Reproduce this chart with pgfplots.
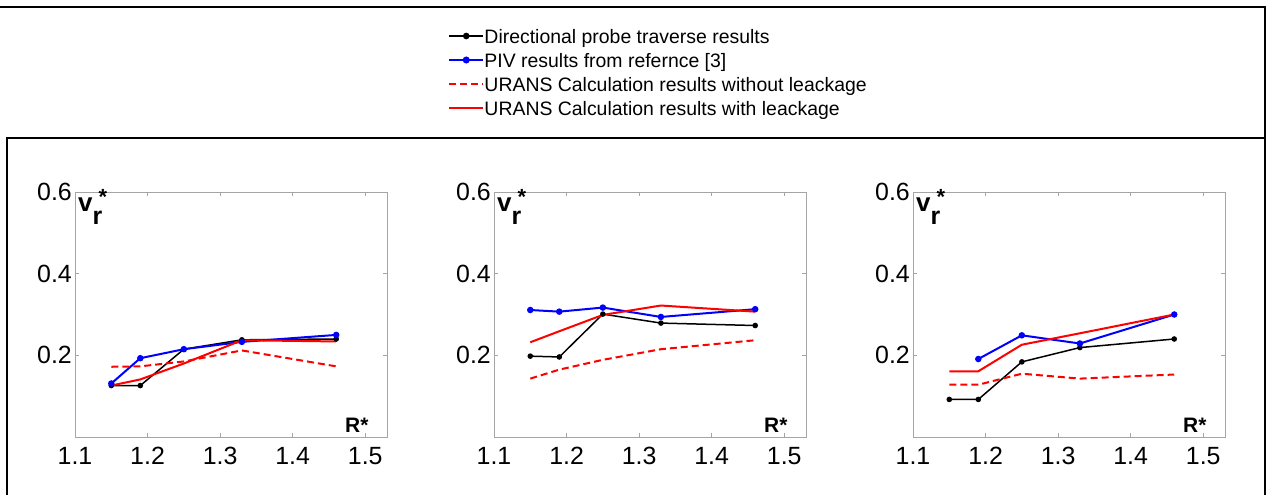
\documentclass[border=0pt]{standalone}
\usepackage{pgfplots}
\pgfplotsset{compat=1.18}
\usepackage{fontspec}
\setmainfont{Liberation Sans}
\definecolor{axgray}{RGB}{165,165,165}
\definecolor{myred}{RGB}{255,0,0}
\definecolor{myblue}{RGB}{0,0,255}
\pgfplotsset{
  panel/.style={
    scale only axis, width=312bp, height=245bp, anchor=south west,
    xmin=1.1, xmax=1.53, ymin=0, ymax=0.6,
    xtick={1.1,1.2,1.3,1.4,1.5}, xticklabels={1.1,1.2,1.3,1.4,1.5},
    ytick={0.2,0.4,0.6}, yticklabels={0.2,0.4,0.6},
    tick align=inside, major tick length=4bp,
    axis line style={axgray, line width=1bp},
    tick style={axgray, line width=0.8bp},
    tick label style={font=\fontsize{25}{25}\selectfont, text=black, inner sep=0pt},
    xticklabel style={yshift=-10bp},
    yticklabel style={xshift=-3bp},
  },
  blk/.style={black, line width=1.5bp, mark=*, mark size=2bp, mark options={solid}},
  blu/.style={myblue, line width=2bp, mark=*, mark size=2.2bp, mark options={solid}},
  rdd/.style={myred, line width=2bp, dash pattern=on 7bp off 4bp},
  rds/.style={myred, line width=2bp},
}
\begin{document}
\begin{tikzpicture}
\path[use as bounding box] (0,0) rectangle (1272bp,495bp);
% frames
\draw[line width=2.5bp] (0,488bp) -- (1265bp,488bp) -- (1265bp,0);
\draw[line width=2.5bp] (7bp,0) -- (7bp,357bp) -- (1265bp,357bp);

% panel 1
\begin{axis}[panel, at={(75bp,58bp)},
  legend style={at={(axis description cs:1.1955,1.6694)}, anchor=north west,
    draw=none, fill=none, inner sep=0pt, outer sep=0pt,
    font=\fontsize{19.5}{19.5}\selectfont,
    nodes={inner sep=0pt, text height=15bp, text depth=5bp},
    row sep=4bp},
  legend cell align=left,
  legend image code/.code={
    \path[draw=none] (0bp,2bp) -- (35bp,2bp);
    \draw[mark repeat=2, mark phase=2, #1, line width=2.5bp] plot coordinates {(0bp,2bp) (17bp,2bp) (34bp,2bp)};
  },
]
\addplot[blk] coordinates {(1.15,0.126) (1.19,0.126) (1.25,0.215) (1.33,0.238) (1.46,0.240)};
\addlegendentry{Directional probe traverse results}
\addplot[blu] coordinates {(1.15,0.131) (1.19,0.193) (1.25,0.215) (1.33,0.233) (1.46,0.250)};
\addlegendentry{PIV results from refernce [3]}
\addplot[rdd] coordinates {(1.15,0.172) (1.19,0.173) (1.25,0.185) (1.33,0.212) (1.46,0.173)};
\addlegendentry{URANS Calculation results without leackage}
\addplot[rds] coordinates {(1.15,0.126) (1.19,0.141) (1.25,0.180) (1.33,0.237) (1.46,0.234)};
\addlegendentry{URANS Calculation results with leackage}
\end{axis}

% panel 2
\begin{axis}[panel, at={(494bp,58bp)}]
\addplot[blk] coordinates {(1.15,0.198) (1.19,0.196) (1.25,0.301) (1.33,0.279) (1.46,0.273)};
\addplot[blu] coordinates {(1.15,0.311) (1.19,0.307) (1.25,0.317) (1.33,0.294) (1.46,0.313)};
\addplot[rdd] coordinates {(1.15,0.143) (1.19,0.165) (1.25,0.189) (1.33,0.215) (1.46,0.237)};
\addplot[rds] coordinates {(1.15,0.232) (1.19,0.259) (1.25,0.299) (1.33,0.322) (1.46,0.307)};
\end{axis}

% panel 3
\begin{axis}[panel, at={(913bp,58bp)}]
\addplot[blk] coordinates {(1.15,0.092) (1.19,0.092) (1.25,0.184) (1.33,0.219) (1.46,0.240)};
\addplot[blu] coordinates {(1.19,0.191) (1.25,0.249) (1.33,0.229) (1.46,0.300)};
\addplot[rdd] coordinates {(1.15,0.128) (1.19,0.128) (1.25,0.155) (1.33,0.143) (1.46,0.153)};
\addplot[rds] coordinates {(1.15,0.161) (1.19,0.161) (1.25,0.226) (1.33,0.254) (1.46,0.300)};
\end{axis}

% axis labels
\foreach \dx in {0,419,838}{
  \node[anchor=base west, inner sep=0pt] at ({(78+\dx)*1bp},283bp)
    {\fontsize{26}{26}\selectfont\bfseries v\rlap{\raisebox{-13bp}{\fontsize{25}{25}\selectfont r}}\hspace{6bp}\raisebox{7bp}{\fontsize{22}{22}\selectfont *}};
  \node[anchor=base west, inner sep=0pt] at ({(345+\dx)*1bp},62bp) {\fontsize{21}{21}\selectfont\bfseries R*};
}
\end{tikzpicture}
\end{document}
